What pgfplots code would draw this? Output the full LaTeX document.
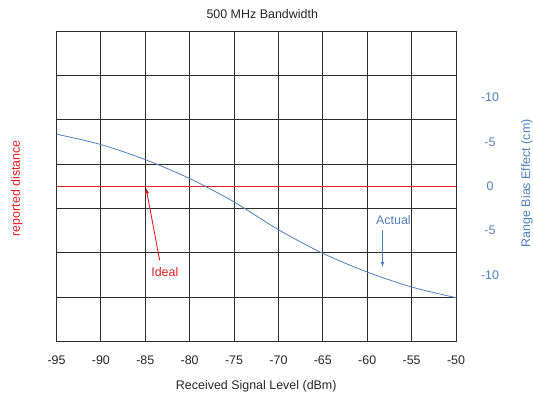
\documentclass[border=0pt]{standalone}
\usepackage{fontspec}
\setmainfont{Liberation Sans}
\usepackage{pgfplots}
\pgfplotsset{compat=1.18}
\definecolor{gridc}{RGB}{45,45,45}
\definecolor{myred}{RGB}{225,30,35}
\definecolor{myblue}{RGB}{80,128,185}
\begin{document}
\begin{tikzpicture}
\begin{axis}[
  scale only axis, width=399.5bp, height=310.5bp,
  xmin=-95, xmax=-50, ymin=-17.5, ymax=17.5,
  xtick={-95,-90,...,-50},
  xticklabels={-95,-90,-85,-80,-75,-70,-65,-60,-55,-50},
  ytick={-12.5,-7.5,-2.5,2.5,7.5,12.5},
  yticklabels={},
  yticklabel pos=right,
  extra y ticks={10,5,0,-5,-10},
  extra y tick labels={-10,-5,0,-5,-10},
  extra y tick style={grid=none},
  xmajorgrids, ymajorgrids,
  major tick length=0pt,
  grid style={gridc, line width=1bp},
  axis line style={gridc, line width=1bp},
  tick style={draw=none},
  font=\fontsize{12.5}{14}\selectfont,
  xticklabel style={anchor=center, yshift=-18.5bp, text=black!85},
  yticklabel style={anchor=center, xshift=34bp, text=myblue},
  clip=false,
]
\addplot[myred, line width=1.2bp] coordinates {(-95,0) (-50,0)};
\addplot[myblue, line width=0.8bp, smooth] coordinates {
  (-95,5.87) (-90,4.7) (-85,3.0) (-80,0.87) (-75,-1.77) (-70,-4.9)
  (-65,-7.56) (-60,-9.67) (-55,-11.36) (-50,-12.56)};
\draw[myred, line width=0.9bp, -latex] (axis cs:-83.38,-8.34) -- (axis cs:-84.91,-0.2);
\draw[myblue, line width=0.8bp, -latex] (axis cs:-58.28,-4.96) -- (axis cs:-58.28,-9.1);
\node[text=myred] at (axis cs:-82.8,-9.66) {Ideal};
\node[text=myblue] at (axis cs:-57.05,-3.76) {Actual};
\node[text=black!85] at ([shift={(6bp,17bp)}]rel axis cs:0.5,1) {500 MHz Bandwidth};
\node[text=black!85] at ([shift={(0bp,-45bp)}]rel axis cs:0.5,0) {Received Signal Level (dBm)};
\node[text=myred, rotate=90] at ([shift={(-39.8bp,-2bp)}]rel axis cs:0,0.5) {reported distance};
\node[text=myblue, rotate=90] at ([shift={(71bp,3bp)}]rel axis cs:1,0.5) {Range Bias Effect (cm)};
\coordinate (O) at (rel axis cs:0,0);
\end{axis}
\pgfresetboundingbox
\path ([shift={(-56.5bp,-57.5bp)}]O) rectangle ([shift={(476.5bp,341.5bp)}]O);
\end{tikzpicture}
\end{document}
